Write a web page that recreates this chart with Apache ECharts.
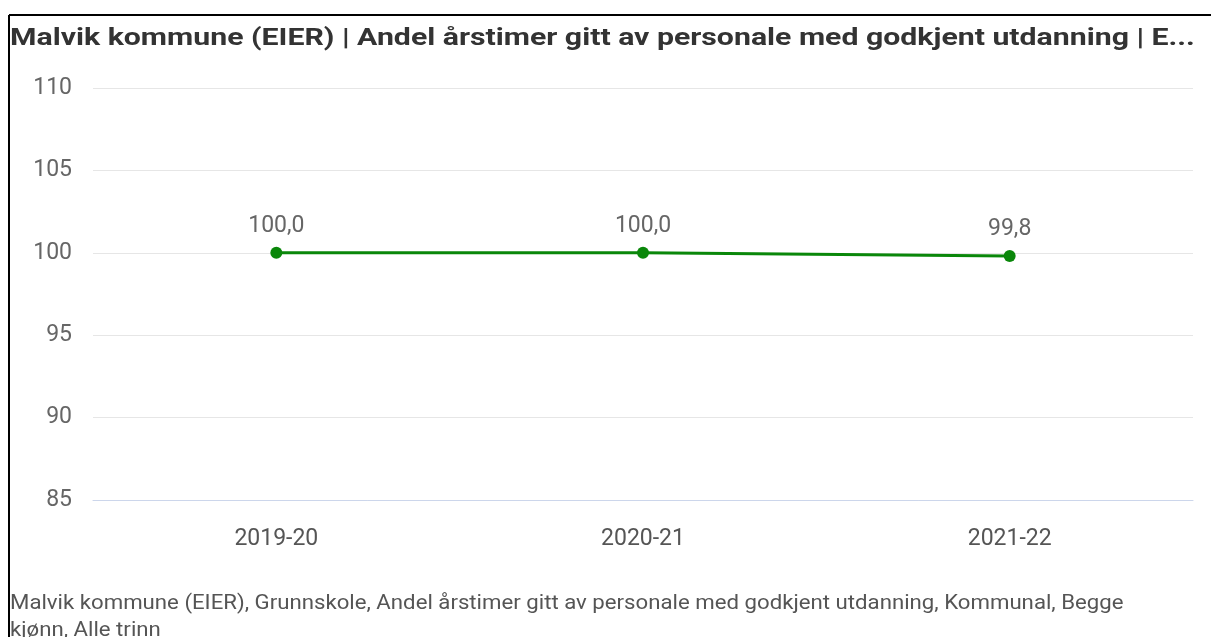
<!DOCTYPE html>
<html>
<head>
<meta charset="utf-8">
<script src="https://cdn.jsdelivr.net/npm/echarts@6/dist/echarts.min.js"></script>
<style>
  html, body { margin: 0; padding: 0; background: #fff; }
  #chart { width: 1211px; height: 637px; }
</style>
</head>
<body>
<div id="chart"></div>
<script>
const titleText = 'Malvik kommune (EIER) | Andel årstimer gitt av personale med godkjent utdanning | E...';
const footerLines = [
  'Malvik kommune (EIER), Grunnskole, Andel årstimer gitt av personale med godkjent utdanning, Kommunal, Begge',
  'kjønn, Alle trinn'
];
const years = ['2019-20', '2020-21', '2021-22'];
const shares = [100.0, 100.0, 99.8];
const yTicks = { min: 85, max: 110, step: 5 };

const chart = echarts.init(document.getElementById('chart'));

chart.setOption({
  backgroundColor: '#fff',
  animation: false,
  textStyle: { fontFamily: 'Roboto' },
  grid: { left: 93, right: 18, top: 88, bottom: 137, containLabel: false },
  xAxis: {
    type: 'category',
    data: years,
    boundaryGap: true,
    axisLine: { show: true, lineStyle: { color: '#ccd6eb', width: 1 } },
    axisTick: { show: false },
    axisLabel: { color: '#555', fontSize: 23, margin: 28 }
  },
  yAxis: {
    type: 'value',
    min: yTicks.min,
    max: yTicks.max,
    interval: yTicks.step,
    axisLine: { show: false },
    axisTick: { show: false },
    axisLabel: { color: '#666', fontSize: 23, margin: 21 },
    splitLine: { lineStyle: { color: '#e6e6e6', width: 1 } }
  },
  series: [{
    type: 'line',
    data: shares,
    symbol: 'circle',
    symbolSize: 12,
    lineStyle: { color: '#0a870a', width: 3 },
    itemStyle: { color: '#0a870a' },
    label: {
      show: true,
      position: 'top',
      distance: 9,
      fontSize: 23,
      color: '#666',
      formatter: p => p.value.toFixed(1).replace('.', ',')
    }
  }],
  graphic: [
    { type: 'line', shape: { x1: 9, y1: 15, x2: 1211, y2: 15 }, style: { stroke: '#000', lineWidth: 2 } },
    { type: 'line', shape: { x1: 9, y1: 15, x2: 9, y2: 637 }, style: { stroke: '#000', lineWidth: 2 } },
    {
      type: 'text',
      x: 10,
      y: 27,
      scaleX: 1.26,
      style: {
        text: titleText,
        font: 'bold 24px Roboto',
        fill: '#333'
      }
    },
    {
      type: 'text',
      x: 10,
      y: 590,
      scaleX: 1.11,
      style: {
        text: footerLines.join('\n'),
        font: '20px Roboto',
        fill: '#555',
        lineHeight: 27
      }
    }
  ]
});
</script>
</body>
</html>
